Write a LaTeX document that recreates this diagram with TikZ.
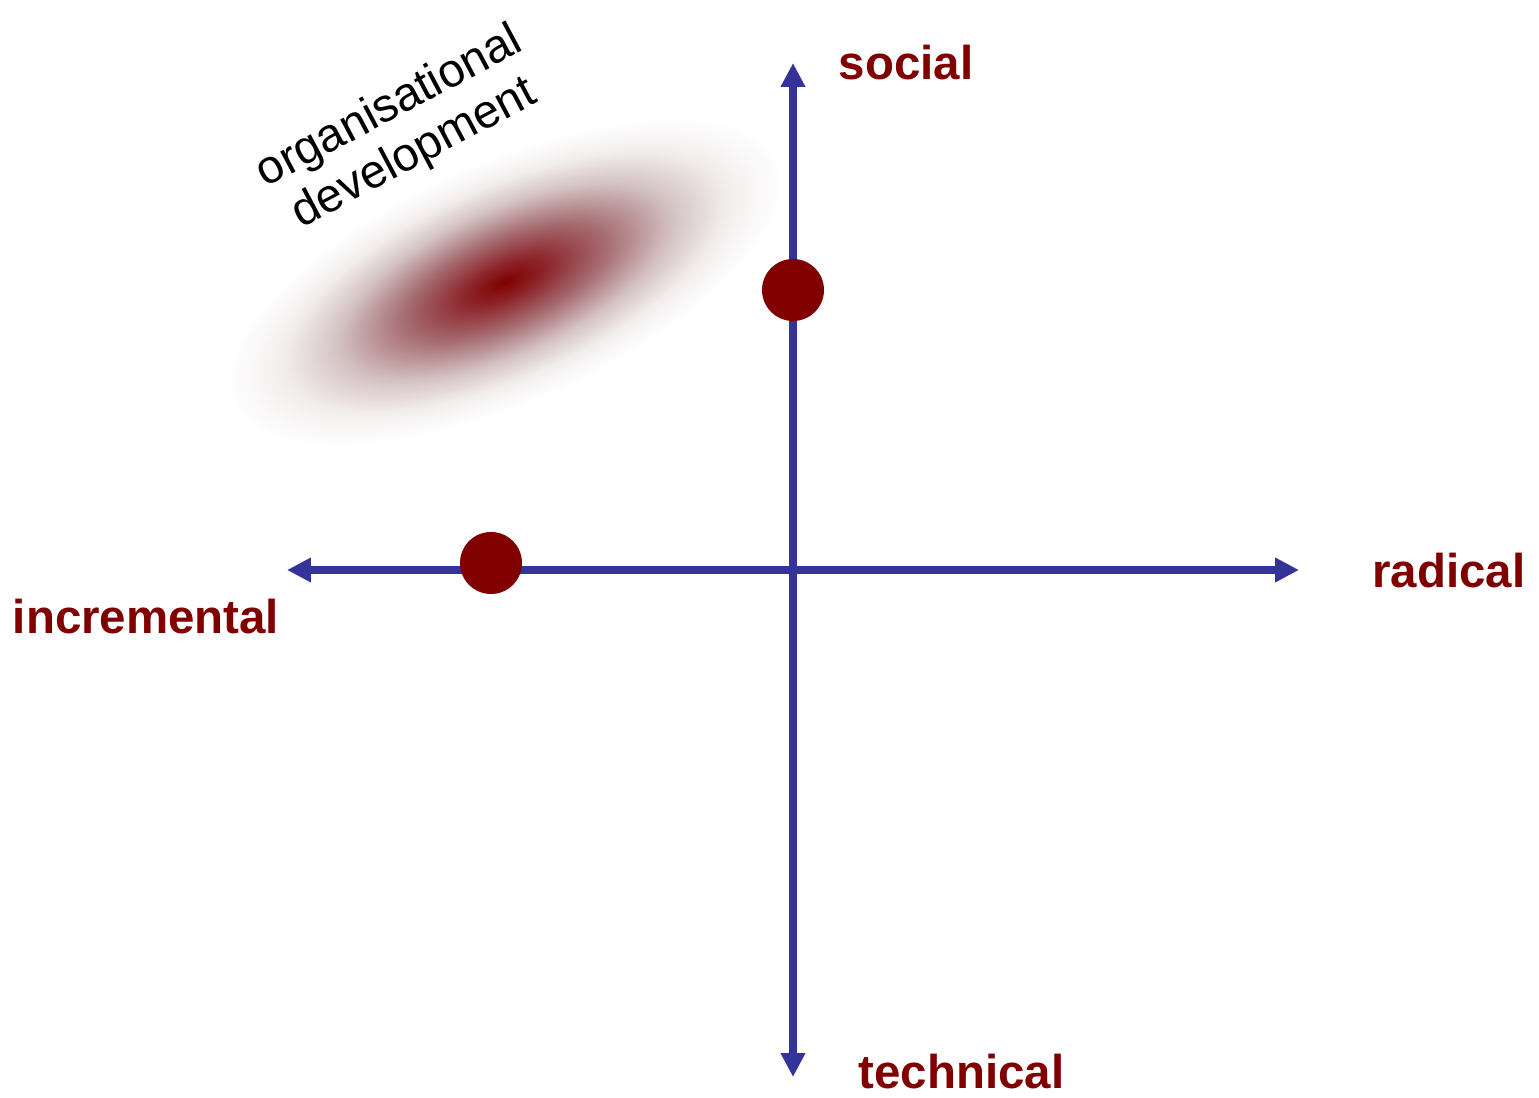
\documentclass[tikz,border=0pt]{standalone}
\usepackage{fontspec}
\setmainfont{Liberation Sans}
\usetikzlibrary{arrows.meta}
\definecolor{axisblue}{RGB}{51,51,153}
\definecolor{darkred}{RGB}{128,0,0}
\definecolor{blobA}{RGB}{140,36,42}
\definecolor{blobB}{RGB}{165,108,113}
\definecolor{blobC}{RGB}{212,194,195}
\definecolor{blobD}{RGB}{243,238,238}
\pgfdeclareradialshading{odblob}{\pgfpoint{0bp}{0bp}}{color(0bp)=(darkred); color(3.5bp)=(blobA); color(9bp)=(blobB); color(15bp)=(blobC); color(20bp)=(blobD); color(25bp)=(white); color(50bp)=(white)}

\begin{document}
\begin{tikzpicture}[
		axis/.style={draw=axisblue, line width=2pt, {Triangle[length=6.8pt,width=6.6pt]}-{Triangle[length=6.8pt,width=6.6pt]}},
		pole/.style={font=\fontsize{13.5}{16}\selectfont\bfseries, text=darkred, anchor=base, inner sep=0pt},
		marker/.style={circle, fill=darkred, minimum size=0.62cm, inner sep=0pt}]
			\useasboundingbox (0,0) rectangle (15.39,10.97);
			\shade[shading=odblob, transform canvas={shift={(5.05,8.15)}, rotate=24}] (0,0) ellipse [x radius=3.0cm, y radius=1.2cm];
			\node[rotate=28, align=center, font=\fontsize{13.4}{15}\selectfont, inner sep=0pt] (od) at (4.02,9.66) {organisational\\development};

			\coordinate (xmin) at (2.87,5.27);
			\coordinate (xmax) at (12.99,5.27);
			\coordinate (ymin) at (7.93,0.20);
			\coordinate (ymax) at (7.93,10.34);
			\draw[axis] (xmin) -- (xmax);
			\draw[axis] (ymin) -- (ymax);

			\node[marker] (sdot) at (7.93,8.07) {};
			\node[marker] (idot) at (4.91,5.34) {};

			\node[pole] (social) at (9.06,10.17) {social};
			\node[pole] (radical) at (14.49,5.09) {radical};
			\node[pole] (incremental) at (1.46,4.63) {incremental};
			\node[pole] (technical) at (9.615,0.09) {technical};
		\end{tikzpicture}
\end{document}
